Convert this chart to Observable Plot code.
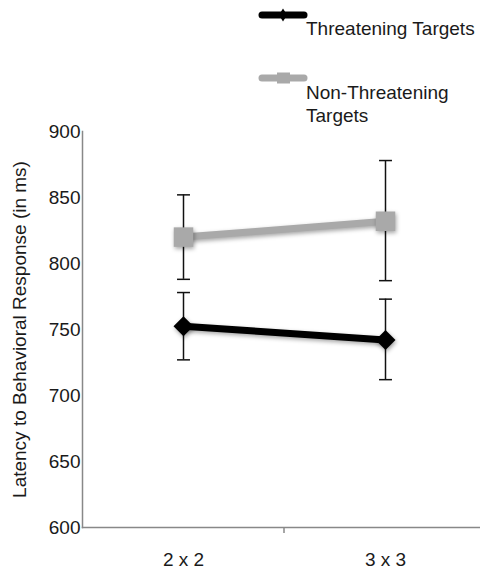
<!DOCTYPE html>
<html>
<head>
<meta charset="utf-8">
<script src="https://cdn.jsdelivr.net/npm/d3@7"></script>
<script src="https://cdn.jsdelivr.net/npm/@observablehq/plot@0.6"></script>
<style>
  html, body { margin: 0; padding: 0; background: white; }
  #wrap { width: 480px; font-family: 'Liberation Sans', Arial, sans-serif; color: #1a1a1a; }
  #legend { position: relative; width: 480px; height: 121px; }
  #legend .sw { position: absolute; left: 258px; width: 52px; height: 16px; overflow: visible; }
  #legend .lab { position: absolute; left: 306px; width: 174px; font-size: 19px; line-height: 23px; color: #1a1a1a; }
</style>
</head>
<body>
<div id="wrap">
  <div id="legend"></div>
  <div id="chart"></div>
</div>
<script>
// ---- data ----
const conditions = ["2 x 2", "3 x 3"];
const seriesNames = ["Threatening Targets", "Non-Threatening Targets"];
const threatMean = [752.5, 742];
const threatLow = [727, 712];
const threatHigh = [778, 773];
const nonThreatMean = [820, 832];
const nonThreatLow = [788, 787];
const nonThreatHigh = [852, 878];
const yTicks = [600, 650, 700, 750, 800, 850, 900];
const yLabel = "Latency to Behavioral Response (in ms)";

// ---- table built from the arrays ----
const rows = [];
conditions.forEach((c, i) => {
  rows.push({series: seriesNames[0], cond: c, mean: threatMean[i], lo: threatLow[i], hi: threatHigh[i]});
  rows.push({series: seriesNames[1], cond: c, mean: nonThreatMean[i], lo: nonThreatLow[i], hi: nonThreatHigh[i]});
});
const threatRows = rows.filter(d => d.series === seriesNames[0]);
const nonThreatRows = rows.filter(d => d.series === seriesNames[1]);

const colors = ["#000000", "#a9a9a9"];
const shadow = "drop-shadow(1px 2px 2px rgba(0,0,0,0.35))";

// horizontal cap symbol for error bars
const capSymbol = {
  draw(ctx, size) {
    const w = Math.sqrt(size) / 2;
    ctx.moveTo(-w, 0);
    ctx.lineTo(w, 0);
  }
};

const plot = Plot.plot({
  width: 480,
  height: 448,
  marginTop: 10,
  marginBottom: 42,
  marginLeft: 82,
  marginRight: 0,
  style: {fontFamily: "'Liberation Sans', Arial, sans-serif", fontSize: "19px", color: "#1a1a1a", background: "white", overflow: "visible"},
  x: {type: "point", domain: conditions, range: [82, 486], padding: 0.5, tickSize: 0, tickPadding: 25, label: null},
  y: {domain: [600, 900], ticks: yTicks, tickSize: 0, tickPadding: 2, label: yLabel, labelAnchor: "center", labelOffset: 70, labelArrow: "none"},
  color: {domain: seriesNames, range: colors},
  marks: [
    Plot.frame({anchor: "left", stroke: "#888", strokeWidth: 1.5}),
    Plot.frame({anchor: "bottom", stroke: "#888", strokeWidth: 1.5}),
    Plot.ruleX(rows, {x: "cond", y1: "lo", y2: "hi", stroke: "#111", strokeWidth: 1.5}),
    Plot.dot(rows, {x: "cond", y: "lo", symbol: capSymbol, r: 7.3, stroke: "#111", strokeWidth: 1.5, fill: "none"}),
    Plot.dot(rows, {x: "cond", y: "hi", symbol: capSymbol, r: 7.3, stroke: "#111", strokeWidth: 1.5, fill: "none"}),
    Plot.line(nonThreatRows, {x: "cond", y: "mean", stroke: "series", strokeWidth: 7, imageFilter: shadow}),
    Plot.line(threatRows, {x: "cond", y: "mean", stroke: "series", strokeWidth: 7, imageFilter: shadow}),
    Plot.dot(nonThreatRows, {x: "cond", y: "mean", symbol: "square", r: 11, fill: "series", stroke: "none", imageFilter: shadow}),
    Plot.dot(threatRows, {x: "cond", y: "mean", symbol: "diamond2", r: 9, fill: "series", stroke: "none", imageFilter: shadow})
  ]
});
document.getElementById("chart").appendChild(plot);

// separator tick on the x axis, between the two categories (derived from the scales)
const xs = plot.scale("x"), ys = plot.scale("y");
const mid = (xs.apply(conditions[0]) + xs.apply(conditions[1])) / 2;
const y0 = ys.apply(ys.domain[0]);
d3.select(plot).append("line")
  .attr("x1", mid).attr("x2", mid)
  .attr("y1", y0).attr("y2", y0 + 6)
  .attr("stroke", "#888").attr("stroke-width", 1.5);

// ---- legend (HTML above the SVG) ----
const legend = d3.select("#legend");
const swTops = [7, 70];
const labTops = [17, 81];
seriesNames.forEach((name, i) => {
  const sw = legend.append("svg").attr("class", "sw").attr("width", 52).attr("height", 16)
    .style("top", swTops[i] + "px");
  sw.append("line").attr("x1", 4).attr("x2", 46).attr("y1", 8).attr("y2", 8)
    .attr("stroke", colors[i]).attr("stroke-width", 7).attr("stroke-linecap", "round");
  if (i === 0) {
    sw.append("path").attr("d", "M25,1.5L29,8L25,14.5L21,8Z").attr("fill", colors[i]);
  } else {
    sw.append("rect").attr("x", 19).attr("y", 2.5).attr("width", 13).attr("height", 11).attr("fill", colors[i]);
  }
  legend.append("div").attr("class", "lab").style("top", labTops[i] + "px").text(name);
});
</script>
</body>
</html>
